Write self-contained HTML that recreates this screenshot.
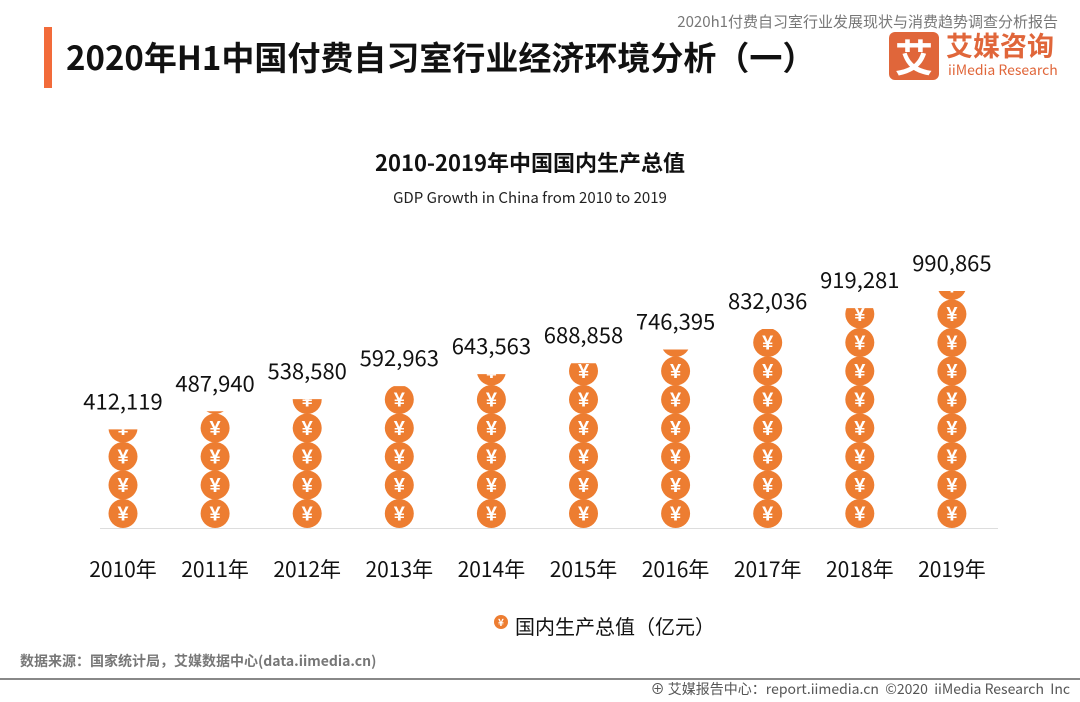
<!DOCTYPE html>
<html><head><meta charset="utf-8"><style>
body{margin:0;width:1080px;height:702px;background:#fff;overflow:hidden;font-family:"Noto Sans CJK SC",sans-serif;position:relative}
.abs{position:absolute;white-space:nowrap}
</style></head><body>
<div class="abs" style="left:44px;top:27px;width:8px;height:61px;background:#f26b3a"></div>
<div class="abs" style="left:66px;top:32px;font-size:33px;font-weight:bold;color:#111;font-family:'Noto Sans CJK SC',sans-serif">2020年H1中国付费自习室行业经济环境分析（一）</div>
<div class="abs" style="right:22px;top:12px;font-size:15px;color:#777;font-family:'Noto Sans CJK SC',sans-serif;line-height:20px">2020h1付费自习室行业发展现状与消费趋势调查分析报告</div>
<div class="abs" style="left:889px;top:32px;width:50px;height:48px;background:#e0663a;border-radius:6px;color:#fff;font-size:38px;font-weight:bold;text-align:center;line-height:48px;font-family:'Noto Sans CJK SC',sans-serif">艾</div>
<div class="abs" style="left:946px;top:28px;font-size:27px;font-weight:bold;color:#e0663a;font-family:'Noto Sans CJK SC',sans-serif;line-height:34px">艾媒咨询</div>
<div class="abs" style="left:948px;top:61px;font-size:14px;color:#e0663a;line-height:18px">iiMedia Research</div>
<svg id="chart" class="abs" style="left:0;top:0" width="1080" height="702"></svg>
<div class="abs" style="left:20px;top:651px;font-size:14px;font-weight:bold;color:#777;line-height:20px">数据来源：国家统计局，艾媒数据中心(data.iimedia.cn)</div>
<div class="abs" style="left:0;top:678px;width:1080px;height:2px;background:#888"></div>
<div class="abs" style="right:10px;top:679px;font-size:14px;color:#555;line-height:20px">⊕ 艾媒报告中心：report.iimedia.cn &nbsp;©2020 &nbsp;iiMedia Research &nbsp;Inc</div>
<script>
const years=["2010年","2011年","2012年","2013年","2014年","2015年","2016年","2017年","2018年","2019年"];
const gdp=[412119,487940,538580,592963,643563,688858,746395,832036,919281,990865];
const labels=["412,119","487,940","538,580","592,963","643,563","688,858","746,395","832,036","919,281","990,865"];
const svg=document.getElementById('chart');
const NS='http://www.w3.org/2000/svg';
const FF='Noto Sans CJK SC,sans-serif';
const base=528,scale=237/990865,x0=123,step=92.1,r=14.5,pitch=28.5;
const xPos=i=>x0+i*step, yPos=v=>base-v*scale;
function mk(t,a,txt){const e=document.createElementNS(NS,t);for(const k in a)e.setAttribute(k,a[k]);if(txt!==undefined)e.textContent=txt;svg.appendChild(e);return e;}
let e;
e=mk('text',{x:530,y:171,'text-anchor':'middle','font-size':22,'font-weight':'bold',fill:'#111','font-family':FF},'2010-2019年中国国内生产总值');

e=mk('text',{x:530,y:203,'text-anchor':'middle','font-size':15,fill:'#222','font-family':FF},'GDP Growth in China from 2010 to 2019');

e=mk('line',{x1:100,x2:998,y1:base+0.5,y2:base+0.5,stroke:'#ddd','stroke-width':1});

function coin(g,cx,cy){
 const c=document.createElementNS(NS,'circle');c.setAttribute('cx',cx);c.setAttribute('cy',cy);c.setAttribute('r',r);c.setAttribute('fill','#ed7d31');g.appendChild(c);
 const t=document.createElementNS(NS,'text');t.setAttribute('x',cx);t.setAttribute('y',cy+7);t.setAttribute('text-anchor','middle');t.setAttribute('font-size',20);t.setAttribute('font-weight','bold');t.setAttribute('fill','#fff');t.setAttribute('font-family','Liberation Sans,sans-serif');t.textContent='¥';g.appendChild(t);
}
gdp.forEach((v,i)=>{
 const x=xPos(i),top=yPos(v);
 const cp=mk('clipPath',{id:'c'+i});
 const rc=document.createElementNS(NS,'rect');rc.setAttribute('x',x-r-1);rc.setAttribute('y',top);rc.setAttribute('width',2*r+2);rc.setAttribute('height',base-top);cp.appendChild(rc);
 const g=mk('g',{'clip-path':'url(#c'+i+')'});
 
 
 for(let cy=base-r;cy+r>top;cy-=pitch)coin(g,x,cy);
 const l=mk('text',{x:x,y:top-20,'text-anchor':'middle','font-size':22,fill:'#111','font-family':FF},labels[i]);
 
 
 const y=mk('text',{x:x,y:577,'text-anchor':'middle','font-size':21,fill:'#111','font-family':FF},years[i]);
 
 
});
const lg=mk('g',{});


const lc=document.createElementNS(NS,'circle');lc.setAttribute('cx',501);lc.setAttribute('cy',622);lc.setAttribute('r',7);lc.setAttribute('fill','#ed7d31');lg.appendChild(lc);
const lt=document.createElementNS(NS,'text');lt.setAttribute('x',501);lt.setAttribute('y',626);lt.setAttribute('text-anchor','middle');lt.setAttribute('font-size',10);lt.setAttribute('fill','#fff');lt.setAttribute('font-weight','bold');lt.textContent='¥';lg.appendChild(lt);
const lx=document.createElementNS(NS,'text');lx.setAttribute('x',515);lx.setAttribute('y',634);lx.setAttribute('font-size',20);lx.setAttribute('fill','#111');lx.setAttribute('font-family',FF);lx.textContent='国内生产总值（亿元）';lg.appendChild(lx);
</script>
</body></html>
